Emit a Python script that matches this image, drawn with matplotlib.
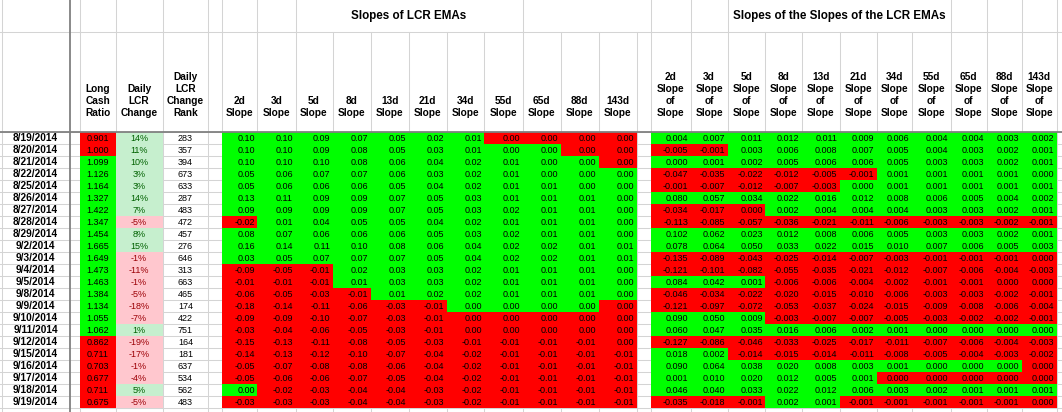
import matplotlib

matplotlib.use("Agg")
import matplotlib.pyplot as plt
import numpy as np
from matplotlib.colors import ListedColormap

# ── data ──
dates = [
    "8/19/2014", "8/20/2014", "8/21/2014", "8/22/2014", "8/25/2014", "8/26/2014",
    "8/27/2014", "8/28/2014", "8/29/2014", "9/2/2014", "9/3/2014", "9/4/2014",
    "9/5/2014", "9/8/2014", "9/9/2014", "9/10/2014", "9/11/2014", "9/12/2014",
    "9/15/2014", "9/16/2014", "9/17/2014", "9/18/2014", "9/19/2014",
]
long_cash_ratio = [
    0.901, 1.000, 1.099, 1.126, 1.164, 1.327, 1.422, 1.347, 1.454, 1.665, 1.649, 1.473,
    1.463, 1.384, 1.134, 1.055, 1.062, 0.862, 0.711, 0.703, 0.677, 0.711, 0.675,
]
daily_lcr_change = [
    14, 11, 10, 3, 3, 14, 7, -5, 8, 15, -1, -11, -1, -5, -18, -7, 1, -19, -17, -1, -4, 5, -5,
]
change_rank = [
    283, 357, 394, 673, 633, 287, 483, 472, 457, 276, 646, 313, 663, 465, 174, 422, 751,
    164, 181, 637, 534, 562, 483,
]
periods = ["2d", "3d", "5d", "8d", "13d", "21d", "34d", "55d", "65d", "88d", "143d"]

slopes = [
    [0.10, 0.10, 0.09, 0.07, 0.05, 0.02, 0.01, 0.00, 0.00, 0.00, 0.00],
    [0.10, 0.10, 0.09, 0.08, 0.05, 0.03, 0.01, 0.00, 0.00, 0.00, 0.00],
    [0.10, 0.10, 0.10, 0.08, 0.06, 0.04, 0.02, 0.01, 0.00, 0.00, 0.00],
    [0.05, 0.06, 0.07, 0.07, 0.06, 0.03, 0.02, 0.01, 0.00, 0.00, 0.00],
    [0.05, 0.06, 0.06, 0.06, 0.05, 0.04, 0.02, 0.01, 0.01, 0.00, 0.00],
    [0.13, 0.11, 0.09, 0.09, 0.07, 0.05, 0.03, 0.01, 0.01, 0.01, 0.00],
    [0.09, 0.09, 0.09, 0.09, 0.07, 0.05, 0.03, 0.02, 0.01, 0.01, 0.00],
    [-0.02, 0.01, 0.04, 0.05, 0.05, 0.04, 0.02, 0.01, 0.01, 0.01, 0.00],
    [0.08, 0.07, 0.06, 0.06, 0.06, 0.05, 0.03, 0.02, 0.01, 0.01, 0.00],
    [0.16, 0.14, 0.11, 0.10, 0.08, 0.06, 0.04, 0.02, 0.02, 0.01, 0.01],
    [0.03, 0.05, 0.07, 0.07, 0.07, 0.05, 0.04, 0.02, 0.02, 0.01, 0.01],
    [-0.09, -0.05, -0.01, 0.02, 0.03, 0.03, 0.02, 0.01, 0.01, 0.01, 0.00],
    [-0.01, -0.01, -0.01, 0.01, 0.03, 0.03, 0.02, 0.01, 0.01, 0.01, 0.00],
    [-0.06, -0.05, -0.03, -0.01, 0.01, 0.02, 0.02, 0.01, 0.01, 0.01, 0.00],
    [-0.18, -0.14, -0.11, -0.06, -0.03, -0.01, 0.00, 0.00, 0.00, 0.00, 0.00],
    [-0.09, -0.09, -0.10, -0.07, -0.03, -0.01, 0.00, 0.00, 0.00, 0.00, 0.00],
    [-0.03, -0.04, -0.06, -0.05, -0.03, -0.01, 0.00, 0.00, 0.00, 0.00, 0.00],
    [-0.15, -0.13, -0.11, -0.08, -0.05, -0.03, -0.01, -0.01, -0.01, -0.01, 0.00],
    [-0.14, -0.13, -0.12, -0.10, -0.07, -0.04, -0.02, -0.01, -0.01, -0.01, -0.01],
    [-0.05, -0.07, -0.08, -0.08, -0.06, -0.04, -0.02, -0.01, -0.01, -0.01, -0.01],
    [-0.05, -0.06, -0.06, -0.07, -0.05, -0.04, -0.02, -0.01, -0.01, -0.01, -0.01],
    [0.00, -0.02, -0.03, -0.04, -0.04, -0.03, -0.02, -0.01, -0.01, -0.01, -0.01],
    [-0.03, -0.03, -0.03, -0.04, -0.04, -0.03, -0.02, -0.01, -0.01, -0.01, -0.01],
]
# G = rising (green), R = falling (red) per cell, as the sheet coloured them
slope_flags = [
    "GGGGGGGRRRR", "GGGGGGGGGRR", "GGGGGGGGGGR", "GGGGGGGGGGG", "GGGGGGGGGGG",
    "GGGGGGGGGGG", "GGGGGGGGGGG", "RGGGGGGGGGG", "GGGGGGGGGGG", "GGGGGGGGGGG",
    "GGGGGGGGGGG", "RRRGGGGGGGG", "RRRGGGGGGGG", "RRRRGGGGGGG", "RRRRRRGGGGR",
    "RRRRRRRRRRR", "RRRRRRRRRRR", "RRRRRRRRRRR", "RRRRRRRRRRR", "RRRRRRRRRRR",
    "RRRRRRRRRRR", "GRRRRRRRRRR", "RRRRRRRRRRR",
]

slope_of_slopes = [
    [0.004, 0.007, 0.011, 0.012, 0.011, 0.009, 0.006, 0.004, 0.004, 0.003, 0.002],
    [-0.005, -0.001, 0.003, 0.006, 0.008, 0.007, 0.005, 0.004, 0.003, 0.002, 0.001],
    [0.000, 0.001, 0.002, 0.005, 0.006, 0.006, 0.005, 0.003, 0.003, 0.002, 0.001],
    [-0.047, -0.035, -0.022, -0.012, -0.005, -0.001, 0.001, 0.001, 0.001, 0.001, 0.000],
    [-0.001, -0.007, -0.012, -0.007, -0.003, 0.000, 0.001, 0.001, 0.001, 0.001, 0.001],
    [0.080, 0.057, 0.034, 0.022, 0.016, 0.012, 0.008, 0.006, 0.005, 0.004, 0.002],
    [-0.034, -0.017, 0.000, 0.002, 0.004, 0.004, 0.004, 0.003, 0.003, 0.002, 0.001],
    [-0.113, -0.085, -0.057, -0.036, -0.021, -0.011, -0.006, -0.003, -0.003, -0.002, -0.001],
    [0.102, 0.062, 0.023, 0.012, 0.008, 0.006, 0.005, 0.003, 0.003, 0.002, 0.001],
    [0.078, 0.064, 0.050, 0.033, 0.022, 0.015, 0.010, 0.007, 0.006, 0.005, 0.003],
    [-0.135, -0.089, -0.043, -0.025, -0.014, -0.007, -0.003, -0.001, -0.001, -0.001, 0.000],
    [-0.121, -0.101, -0.082, -0.055, -0.035, -0.021, -0.012, -0.007, -0.006, -0.004, -0.003],
    [0.084, 0.042, 0.001, -0.006, -0.006, -0.004, -0.002, -0.001, -0.001, 0.000, 0.000],
    [-0.046, -0.034, -0.022, -0.020, -0.015, -0.010, -0.006, -0.003, -0.003, -0.002, -0.001],
    [-0.121, -0.097, -0.072, -0.053, -0.037, -0.024, -0.015, -0.009, -0.008, -0.006, -0.004],
    [0.090, 0.050, 0.009, -0.003, -0.007, -0.007, -0.005, -0.003, -0.002, -0.002, -0.001],
    [0.060, 0.047, 0.035, 0.016, 0.006, 0.002, 0.001, 0.000, 0.000, 0.000, 0.000],
    [-0.127, -0.086, -0.046, -0.033, -0.025, -0.017, -0.011, -0.007, -0.006, -0.004, -0.003],
    [0.018, 0.002, -0.014, -0.015, -0.014, -0.011, -0.008, -0.005, -0.004, -0.003, -0.002],
    [0.090, 0.064, 0.038, 0.020, 0.008, 0.003, 0.001, 0.000, 0.000, 0.000, 0.000],
    [0.001, 0.010, 0.020, 0.012, 0.005, 0.001, 0.000, 0.000, 0.000, 0.000, 0.000],
    [0.046, 0.040, 0.033, 0.022, 0.012, 0.006, 0.003, 0.002, 0.001, 0.001, 0.001],
    [-0.035, -0.018, -0.001, 0.002, 0.001, -0.001, -0.001, -0.001, -0.001, -0.001, 0.000],
]
sos_flags = [
    "GGGGGGGGGGG", "RRGGGGGGGGG", "GGGGGGGGGGG", "RRRRRRGGGGG", "RRRRRGGGGGG",
    "GGGGGGGGGGG", "RRRGGGGGGGG", "RRRRRRRRRRR", "GGGGGGGGGGG", "GGGGGGGGGGG",
    "RRRRRRRRRRR", "RRRRRRRRRRR", "GGGRRRRRRRR", "RRRRRRRRRRR", "RRRRRRRRRRR",
    "GGGRRRRRRRR", "GGGGGGGGGGG", "RRRRRRRRRRR", "GGRRRRRRRRR", "GGGGGGGGGGR",
    "GGGGGGRRRRR", "GGGGGGGGGGG", "RRRGGRRRRRR",
]

# ── sheet geometry (pixels) ──
W, H = 1062, 412
TOP_ROW, HEAD_BOTTOM, ROW_H = 32.3, 132.3, 12.0
DATE_X = (1.7, 69.5)
LCR_X = [80.0, 115.5, 162.7, 208.3]
SLOPE_X = [221.7, 257.3, 295.5, 332.5, 370.7, 408.7, 446.7, 484.3, 522.7, 560.7, 598.7, 636.7]
SOS_X = [650.5, 690.7, 727.7, 765.3, 801.7, 840.0, 876.7, 911.7, 951.0, 986.7, 1021.7, 1056.7]
GRID = "#d4d4d4"
DARK = "#808080"
GREEN, RED = "#00ff00", "#ff0000"
LT_GREEN, LT_RED = "#c6efce", "#ffc7ce"
TX_GREEN, TX_RED = "#006100", "#9c0006"

VAL_FONT = dict(family="Liberation Sans", fontsize=6.5)
BOLD_FONT = dict(family="Liberation Sans", fontsize=7.3, fontweight="bold")
TITLE_FONT = dict(family="Liberation Sans", fontsize=8.4, fontweight="bold")

n_rows = len(dates)
row_edges = HEAD_BOTTOM + ROW_H * np.arange(n_rows + 1)
row_mid = (row_edges[:-1] + row_edges[1:]) / 2

fig = plt.figure(figsize=(W / 100, H / 100), dpi=100)
ax = fig.add_axes([0, 0, 1, 1])
ax.set_xlim(0, W)
ax.set_ylim(H, 0)
ax.axis("off")

# gridlines
lw = 0.75
all_x = [DATE_X[0], 80.0] + LCR_X[1:] + SLOPE_X + SOS_X
for x in all_x:
    ax.plot([x, x], [TOP_ROW, H], color=GRID, lw=lw, zorder=1)
top_x = [DATE_X[0], 80.0, 115.5, 162.7, 208.3, 221.7, 257.3, 295.5, 522.7,
         650.5, 690.7, 727.7, 951.0, 986.7, 1021.7, 1056.7]
for x in top_x:
    ax.plot([x, x], [0, TOP_ROW], color=GRID, lw=lw, zorder=1)
for y in list(row_edges) + [TOP_ROW]:
    ax.plot([0, W], [y, y], color=GRID, lw=lw, zorder=1)

# coloured blocks
cmap = ListedColormap([RED, GREEN])
for edges, flags in ((SLOPE_X, slope_flags), (SOS_X, sos_flags)):
    grid = np.array([[1 if f == "G" else 0 for f in row] for row in flags])
    ax.pcolormesh(edges, row_edges, grid, cmap=cmap, vmin=0, vmax=1,
                  antialiased=False, edgecolors="none", zorder=2)

lcr_grid = np.array([[1 if v > 1.0 else 0] for v in long_cash_ratio])
ax.pcolormesh(LCR_X[:2], row_edges, lcr_grid, cmap=cmap, vmin=0, vmax=1,
              antialiased=False, edgecolors="none", zorder=2)
chg_grid = np.array([[1 if v > 0 else 0] for v in daily_lcr_change])
ax.pcolormesh(LCR_X[1:3], row_edges, chg_grid, cmap=ListedColormap([LT_RED, LT_GREEN]),
              vmin=0, vmax=1, antialiased=False, edgecolors="none", zorder=2)

# frozen-pane lines
ax.plot([DATE_X[1], DATE_X[1]], [0, H], color=DARK, lw=1.3, zorder=3)
ax.plot([0, W], [HEAD_BOTTOM, HEAD_BOTTOM], color=DARK, lw=1.3, zorder=3)

# titles
ax.text(409, 16, "Slopes of LCR EMAs", ha="center", va="center", zorder=4, **TITLE_FONT)
ax.text(839, 16, "Slopes of the Slopes of the LCR EMAs", ha="center", va="center",
        zorder=4, **TITLE_FONT)


def header(xc, lines):
    for i, line in enumerate(lines):
        y = 112.7 - 12 * (len(lines) - 1 - i)
        ax.text(xc, y, line, ha="center", va="center", zorder=4, **BOLD_FONT)


def mid(edges, j):
    return (edges[j] + edges[j + 1]) / 2


header(mid(LCR_X, 0), ["Long", "Cash", "Ratio"])
header(mid(LCR_X, 1), ["Daily", "LCR", "Change"])
header(mid(LCR_X, 2), ["Daily", "LCR", "Change", "Rank"])
for j, p in enumerate(periods):
    header(mid(SLOPE_X, j), [p, "Slope"])
    header(mid(SOS_X, j), [p, "Slope", "of", "Slope"])

# rows
for i in range(n_rows):
    y = row_mid[i]
    ax.text(sum(DATE_X) / 2, y, dates[i], ha="center", va="center", zorder=4, **BOLD_FONT)
    ax.text(mid(LCR_X, 0), y, f"{long_cash_ratio[i]:.3f}", ha="center", va="center",
            zorder=4, **VAL_FONT)
    chg = daily_lcr_change[i]
    ax.text(mid(LCR_X, 1), y, f"{chg}%", ha="center", va="center", zorder=4,
            color=TX_GREEN if chg > 0 else TX_RED, **VAL_FONT)
    ax.text(mid(LCR_X, 2), y, f"{change_rank[i]}", ha="center", va="center",
            zorder=4, **VAL_FONT)
    for j in range(len(periods)):
        ax.text(SLOPE_X[j + 1] - 2.5, y, f"{slopes[i][j]:.2f}", ha="right", va="center",
                zorder=4, **VAL_FONT)
        ax.text(SOS_X[j + 1] - 2.5, y, f"{slope_of_slopes[i][j]:.3f}", ha="right",
                va="center", zorder=4, **VAL_FONT)

fig.savefig("out.png", dpi=100)
